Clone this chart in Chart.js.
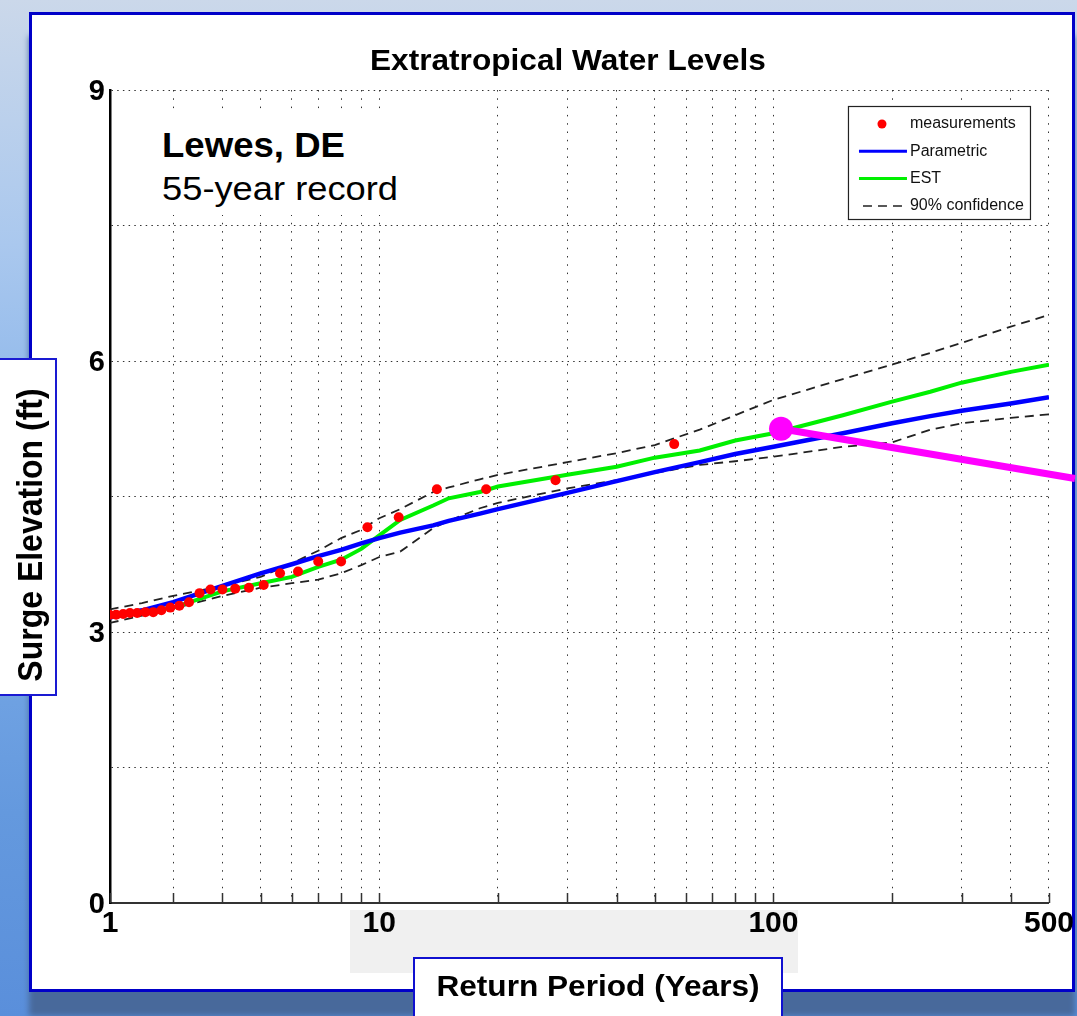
<!DOCTYPE html>
<html><head><meta charset="utf-8">
<script src="https://cdn.jsdelivr.net/npm/chart.js@4.4.1/dist/chart.umd.min.js"></script>
<style>
html,body{margin:0;padding:0;}
body{width:1077px;height:1016px;overflow:hidden;position:relative;font-family:"Liberation Sans",Arial,sans-serif;
 background:linear-gradient(to bottom,#cbd8ea 0%,#aac8ee 24%,#80afe9 50%,#6499de 80%,#5a8fdb 100%);}
#panel{position:absolute;left:29px;top:12px;width:1040px;height:974px;border:3px solid #0000c8;background:#fff;box-shadow:0 24px 6px 0 #48699b;z-index:0;}
#band{position:absolute;left:350px;top:910px;width:448px;height:63px;background:#f0f0f0;z-index:1;}
#c{position:absolute;left:0;top:0;z-index:2;}
#title{position:absolute;left:370px;top:46px;font-weight:bold;font-size:29px;line-height:29px;white-space:nowrap;transform:scaleX(1.09);transform-origin:left top;z-index:3;color:#000;}
#site{position:absolute;left:150px;top:113px;width:262px;height:102px;background:#fff;z-index:3;}
#site .a{position:absolute;left:12px;top:14px;font-weight:bold;font-size:35px;line-height:35px;white-space:nowrap;transform:scaleX(1.045);transform-origin:left top;}
#site .b{position:absolute;left:12px;top:59px;font-size:33px;line-height:33px;white-space:nowrap;transform:scaleX(1.1);transform-origin:left top;}
#ybox{position:absolute;left:-3px;top:358px;width:56px;height:334px;border:2px solid #1a1ad2;background:#fff;z-index:3;}
#ybox div{position:absolute;left:-169px;top:155px;width:400px;height:40px;line-height:40px;text-align:center;font-weight:bold;font-size:32px;white-space:nowrap;transform:scaleX(1.09) rotate(-90deg);transform-origin:center;}
#xbox{position:absolute;left:413px;top:957px;width:366px;height:80px;border:2px solid #1010d0;background:#fff;z-index:3;}
#xbox div{position:absolute;left:0;top:13px;width:366px;text-align:center;font-weight:bold;font-size:29px;line-height:29px;white-space:nowrap;transform:scaleX(1.09);transform-origin:center;}
</style></head>
<body>
<div id="panel"></div>
<div id="band"></div>
<canvas id="c" width="1077" height="1016"></canvas>
<div id="title">Extratropical Water Levels</div>
<div id="site"><div class="a">Lewes, DE</div><div class="b">55-year record</div></div>
<div id="ybox"><div>Surge Elevation (ft)</div></div>
<div id="xbox"><div>Return Period (Years)</div></div>
<script>
// ---- data ----
const measuredT  = [56, 28, 18.67, 14, 11.2, 9.33, 8, 7, 6.22, 5.6, 5.09, 4.67, 4.31, 4, 3.73, 3.5, 3.29, 3.11, 2.95, 2.8, 2.67, 2.55, 2.43, 2.33, 2.24, 2.15, 2.07];
const measuredFt = [5.08, 4.68, 4.58, 4.58, 4.27, 4.16, 3.78, 3.78, 3.67, 3.65, 3.52, 3.49, 3.48, 3.47, 3.47, 3.43, 3.33, 3.29, 3.27, 3.24, 3.22, 3.22, 3.21, 3.21, 3.20, 3.19, 3.19];
const curveT     = [2.07, 2.5, 3, 4, 5, 6, 7, 8, 9, 10, 11.3, 13.7, 15, 18, 20, 30, 40, 50, 65, 80, 100, 150, 200, 250, 300, 400, 500];
const parametricFt = [3.16,3.24,3.33,3.51,3.65,3.75,3.84,3.91,3.98,4.04,4.10,4.18,4.23,4.31,4.36,4.54,4.67,4.77,4.88,4.97,5.05,5.20,5.31,5.39,5.45,5.53,5.60];
const estFt        = [3.17,3.22,3.27,3.45,3.54,3.61,3.72,3.80,3.92,4.07,4.24,4.40,4.48,4.55,4.61,4.74,4.83,4.93,5.01,5.12,5.20,5.40,5.55,5.66,5.76,5.88,5.96];
const upperFt      = [3.25,3.32,3.40,3.51,3.61,3.76,3.90,4.04,4.13,4.26,4.36,4.55,4.60,4.69,4.74,4.88,4.98,5.07,5.24,5.40,5.57,5.80,5.96,6.09,6.20,6.38,6.51];
const lowerFt      = [3.10,3.18,3.26,3.40,3.49,3.54,3.58,3.65,3.74,3.83,3.89,4.15,4.23,4.37,4.43,4.59,4.68,4.76,4.85,4.89,4.94,5.05,5.10,5.24,5.31,5.37,5.41];
const markerT  = [104.5, 582];
const markerFt = [5.25, 4.70];
const xMin = 2.074, xMax = 500;
const xGridValues = [2.074, 3, 4, 5, 6, 7, 8, 9, 10, 20, 30, 40, 50, 60, 70, 80, 90, 100, 200, 300, 400, 500];
const xLabelValues = [2.074, 10, 100, 500];
const xLabelTexts  = ['1', '10', '100', '500'];
const yLabelValues = [0, 3, 6, 9];

const pts = (xs, ys) => xs.map((x, i) => ({x: x, y: ys[i]}));

const innerTicks = {
  id: 'innerTicks',
  beforeDatasetsDraw(chart) {
    const ctx = chart.ctx, xs = chart.scales.x, area = chart.chartArea;
    ctx.save();
    ctx.strokeStyle = '#333'; ctx.lineWidth = 1.5;
    xs.ticks.forEach(t => {
      const px = Math.round(xs.getPixelForValue(t.value)) + 0.5;
      ctx.beginPath(); ctx.moveTo(px, area.bottom); ctx.lineTo(px, area.bottom - 10); ctx.stroke();
    });
    ctx.restore();
  }
};

const boxLegend = {
  id: 'boxLegend',
  afterDraw(chart) {
    const ctx = chart.ctx, area = chart.chartArea;
    const items = chart.data.datasets.filter(d => d.legendText);
    const w = 182, h = 113, x0 = area.right - 201, y0 = area.top + 16;
    ctx.save();
    ctx.fillStyle = '#fff'; ctx.fillRect(x0, y0, w, h);
    ctx.strokeStyle = '#222'; ctx.lineWidth = 1.2; ctx.strokeRect(x0 + 0.5, y0 + 0.5, w, h);
    ctx.font = '16px "Liberation Sans", Arial, sans-serif';
    ctx.textBaseline = 'middle'; ctx.textAlign = 'left';
    items.forEach((d, i) => {
      const y = y0 + 18 + i * 27.3;
      if (d.showLine === false) {
        ctx.fillStyle = d.pointBackgroundColor;
        ctx.beginPath(); ctx.arc(x0 + 34, y, 4.5, 0, Math.PI * 2); ctx.fill();
      } else {
        ctx.strokeStyle = d.borderColor;
        ctx.lineWidth = d.borderDash ? 1.5 : 3;
        ctx.setLineDash(d.borderDash || []);
        ctx.beginPath(); ctx.moveTo(x0 + (d.borderDash ? 15 : 11), y); ctx.lineTo(x0 + 59, y); ctx.stroke();
        ctx.setLineDash([]);
      }
      ctx.fillStyle = '#111';
      ctx.fillText(d.legendText, x0 + 62, y);
    });
    ctx.restore();
  }
};

new Chart(document.getElementById('c'), {
  type: 'line',
  data: {
    datasets: [
      { label: 'marker', data: pts(markerT, markerFt), borderColor: '#ff00ff', backgroundColor: '#ff00ff',
        pointBackgroundColor: '#ff00ff', borderWidth: 7, pointRadius: [12, 0], pointBorderWidth: 0, clip: false },
      { label: 'measurements', legendText: 'measurements', data: pts(measuredT, measuredFt), showLine: false,
        pointRadius: 5, pointBackgroundColor: '#ff0000', pointBorderWidth: 0, borderColor: '#ff0000' },
      { label: 'Parametric', legendText: 'Parametric', data: pts(curveT, parametricFt), borderColor: '#0000ff',
        borderWidth: 4.5, pointRadius: 0 },
      { label: 'EST', legendText: 'EST', data: pts(curveT, estFt), borderColor: '#00f000',
        borderWidth: 4, pointRadius: 0 },
      { label: '90% confidence', legendText: '90% confidence', data: pts(curveT, upperFt), borderColor: '#222',
        borderWidth: 1.8, borderDash: [9, 6], pointRadius: 0 },
      { label: '90% confidence (lower)', data: pts(curveT, lowerFt), borderColor: '#222',
        borderWidth: 1.8, borderDash: [9, 6], pointRadius: 0 }
    ]
  },
  options: {
    responsive: false, animation: false, devicePixelRatio: 1, events: [],
    layout: { padding: { top: 90, right: 27, left: 0, bottom: 0 } },
    plugins: { legend: { display: false }, tooltip: { enabled: false }, title: { display: false } },
    scales: {
      x: {
        type: 'logarithmic', min: xMin, max: xMax,
        afterBuildTicks: s => { s.ticks = xGridValues.map(v => ({ value: v })); },
        afterFit: s => { s.height = 113; },
        grid: { color: '#333', lineWidth: 1, drawTicks: false },
        border: { display: true, color: '#333', width: 2, dash: [1.5, 6.8] },
        ticks: {
          autoSkip: false, maxRotation: 0, padding: 3, color: '#000',
          font: { family: '"Liberation Sans", Arial, sans-serif', size: 30, weight: 'bold' },
          callback: v => { const k = xLabelValues.indexOf(v); return k >= 0 ? xLabelTexts[k] : ''; }
        }
      },
      y: {
        min: 0, max: 9,
        afterFit: s => { s.width = 110; },
        grid: { color: '#333', lineWidth: 1, drawTicks: false },
        border: { display: true, color: '#000', width: 2.5, dash: [1.5, 4.2] },
        ticks: {
          stepSize: 1.5, padding: 5, color: '#000', labelOffset: 2,
          font: { family: '"Liberation Sans", Arial, sans-serif', size: 29, weight: 'bold' },
          callback: v => yLabelValues.includes(v) ? String(v) : ''
        }
      }
    }
  },
  plugins: [innerTicks, boxLegend]
});
</script>
</body></html>
